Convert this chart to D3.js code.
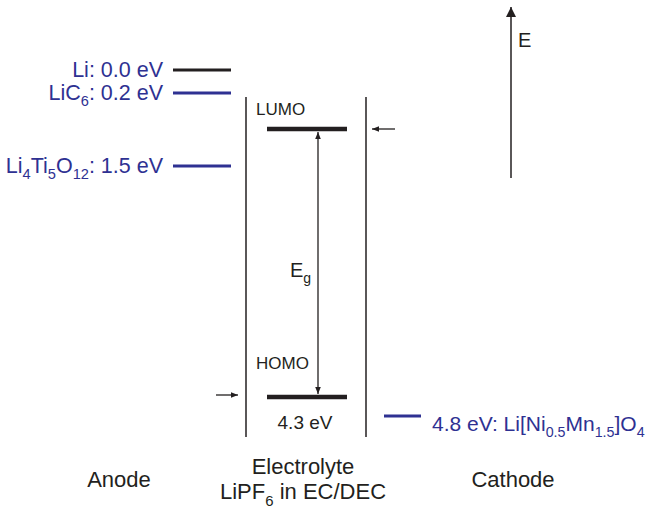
<!DOCTYPE html>
<html>
<head>
<meta charset="utf-8">
<script src="https://cdn.jsdelivr.net/npm/d3@7"></script>
<style>
  html, body { margin: 0; padding: 0; background: #fff; }
  text { font-family: "Liberation Sans", Arial, Helvetica, sans-serif; }
</style>
</head>
<body>
<svg id="chart" width="649" height="509"></svg>
<script>
// Energy levels (eV vs Li/Li+), schematic
const anodeNames = ["Li", "LiC6", "Li4Ti5O12"];
const anodeValues = [0.0, 0.2, 1.5];
const anodeLabels = [
  [["Li: 0.0 eV", 0]],
  [["LiC", 0], ["6", 1], [": 0.2 eV", 0]],
  [["Li", 0], ["4", 1], ["Ti", 0], ["5", 1], ["O", 0], ["12", 1], [": 1.5 eV", 0]]
];
const anodeLineColors = ["#231f20", "#2e3192", "#2e3192"];

const lumoValue = 0.85;
const homoValue = 4.3;

const cathodeValue = 4.8;
const cathodeLabel = [["4.8 eV: Li[Ni", 0], ["0.5", 1], ["Mn", 0], ["1.5", 1], ["]O", 0], ["4", 1]];

const columnLabels = ["Anode", "Electrolyte", "Cathode"];

const svg = d3.select("#chart");
const ink = "#231f20";
const blue = "#2e3192";

// Schematic (piecewise) energy axis, downward = higher potential
const y = d3.scaleLinear()
  .domain([0.0, 0.2, 0.85, 1.5, 4.3, 4.8])
  .range([70, 93, 129, 166, 397, 416]);

const defs = svg.append("defs");
defs.append("marker").attr("id", "ah").attr("viewBox", "0 0 10 10")
  .attr("refX", 10).attr("refY", 5).attr("markerWidth", 7).attr("markerHeight", 7)
  .attr("markerUnits", "userSpaceOnUse").attr("orient", "auto-start-reverse")
  .append("path").attr("d", "M0,1 L10,5 L0,9 Z").attr("fill", ink);
defs.append("marker").attr("id", "ahBig").attr("viewBox", "0 0 10 10")
  .attr("refX", 10).attr("refY", 5).attr("markerWidth", 10).attr("markerHeight", 10)
  .attr("markerUnits", "userSpaceOnUse").attr("orient", "auto")
  .append("path").attr("d", "M0,0 L10,5 L0,10 Z").attr("fill", ink);

// text with subscripts
function richText(g, parts, size) {
  g.attr("font-size", size);
  parts.forEach(([s, sub], i) => {
    const prevSub = i > 0 && parts[i - 1][1];
    g.append("tspan")
      .attr("font-size", sub ? size * 0.68 : size)
      .attr("dy", sub ? size * 0.3 : (prevSub ? -size * 0.3 : 0))
      .text(s);
  });
}

// Anode levels
anodeValues.forEach((v, i) => {
  svg.append("line")
    .attr("x1", 173).attr("x2", 231).attr("y1", y(v)).attr("y2", y(v))
    .attr("stroke", anodeLineColors[i]).attr("stroke-width", 3);
  const t = svg.append("text")
    .attr("x", 163).attr("y", y(v) + 7)
    .attr("text-anchor", "end").attr("fill", blue);
  richText(t, anodeLabels[i], 21.5);
});

// Electrolyte window walls
[246, 366].forEach(x => {
  svg.append("line").attr("x1", x).attr("x2", x).attr("y1", 97).attr("y2", 437)
    .attr("stroke", ink).attr("stroke-width", 1.5);
});

// LUMO / HOMO bars
[lumoValue, homoValue].forEach(v => {
  svg.append("line").attr("x1", 267).attr("x2", 347).attr("y1", y(v)).attr("y2", y(v))
    .attr("stroke", ink).attr("stroke-width", 4.5);
});
svg.append("text").attr("x", 256).attr("y", y(lumoValue) - 14)
  .attr("font-size", 17).attr("fill", ink).text("LUMO");
svg.append("text").attr("x", 256).attr("y", y(homoValue) - 28)
  .attr("font-size", 17).attr("fill", ink).text("HOMO");
svg.append("text").attr("x", 305).attr("y", y(homoValue) + 32)
  .attr("text-anchor", "middle").attr("font-size", 19).attr("fill", ink).text("4.3 eV");

// Band gap double arrow
svg.append("line").attr("x1", 318).attr("x2", 318)
  .attr("y1", y(lumoValue) + 3).attr("y2", y(homoValue) - 3)
  .attr("stroke", ink).attr("stroke-width", 1.3)
  .attr("marker-start", "url(#ah)").attr("marker-end", "url(#ah)");
const eg = svg.append("text").attr("x", 290).attr("y", 277).attr("font-size", 20).attr("fill", ink);
eg.append("tspan").attr("font-size", 20).text("E");
eg.append("tspan").attr("font-size", 14).attr("dy", 6).text("g");

// Side pointers at LUMO and HOMO
svg.append("line").attr("x1", 395).attr("x2", 372).attr("y1", y(lumoValue)).attr("y2", y(lumoValue))
  .attr("stroke", ink).attr("stroke-width", 1.3).attr("marker-end", "url(#ah)");
svg.append("line").attr("x1", 216).attr("x2", 238).attr("y1", y(homoValue) - 2).attr("y2", y(homoValue) - 2)
  .attr("stroke", ink).attr("stroke-width", 1.3).attr("marker-end", "url(#ah)");

// Cathode level
svg.append("line").attr("x1", 384).attr("x2", 421).attr("y1", y(cathodeValue)).attr("y2", y(cathodeValue))
  .attr("stroke", blue).attr("stroke-width", 3);
const ct = svg.append("text").attr("x", 432).attr("y", y(cathodeValue) + 15).attr("fill", blue);
richText(ct, cathodeLabel, 21);

// Energy axis arrow
svg.append("line").attr("x1", 511).attr("x2", 511).attr("y1", 178).attr("y2", 7)
  .attr("stroke", ink).attr("stroke-width", 1.5).attr("marker-end", "url(#ahBig)");
svg.append("text").attr("x", 518).attr("y", 47).attr("font-size", 20).attr("fill", ink).text("E");

// Column labels
svg.append("text").attr("x", 119).attr("y", 487).attr("text-anchor", "middle")
  .attr("font-size", 22).attr("fill", ink).text(columnLabels[0]);
svg.append("text").attr("x", 303).attr("y", 474).attr("text-anchor", "middle")
  .attr("font-size", 22).attr("fill", ink).text(columnLabels[1]);
const el2 = svg.append("text").attr("x", 303).attr("y", 499).attr("text-anchor", "middle").attr("fill", ink);
richText(el2, [["LiPF", 0], ["6", 1], [" in EC/DEC", 0]], 22);
svg.append("text").attr("x", 513).attr("y", 487).attr("text-anchor", "middle")
  .attr("font-size", 22).attr("fill", ink).text(columnLabels[2]);
</script>
</body>
</html>
